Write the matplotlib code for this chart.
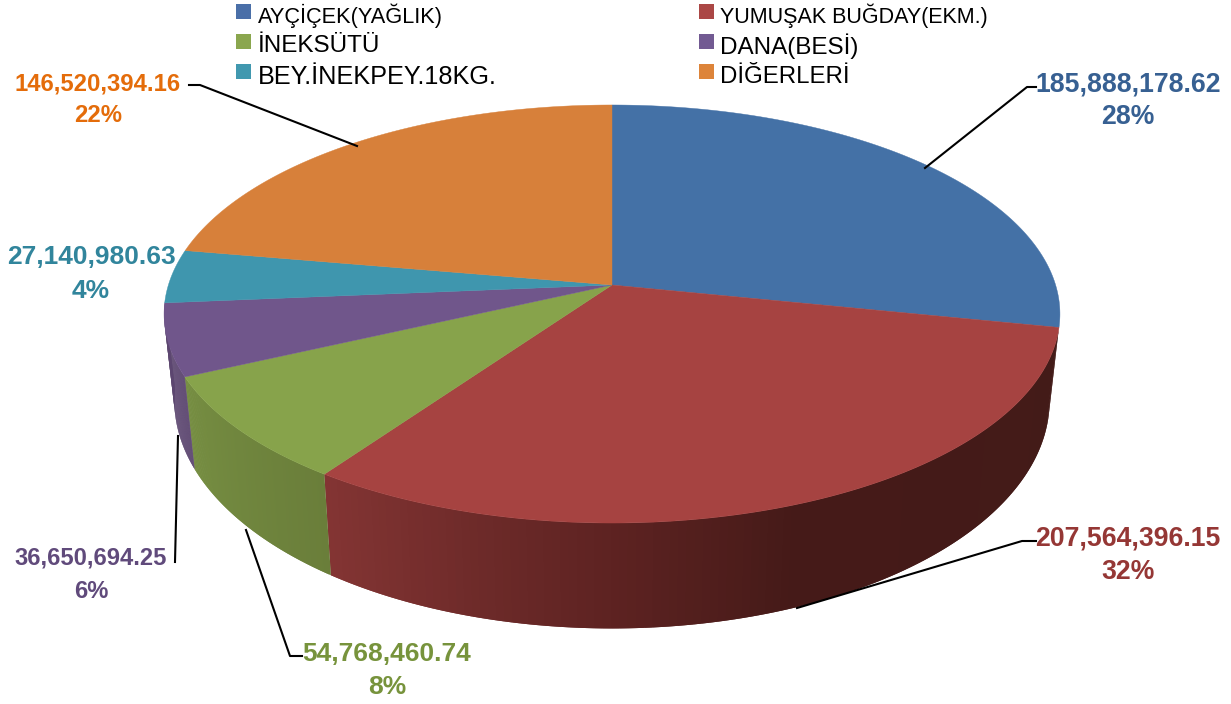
import numpy as np
import matplotlib
matplotlib.use("Agg")
import matplotlib.pyplot as plt
from matplotlib.patches import Polygon, Rectangle

plt.rcParams['font.family'] = ['Liberation Sans', 'DejaVu Sans']

categories = ["AYÇİÇEK(YAĞLIK)", "YUMUŞAK BUĞDAY(EKM.)", "İNEKSÜTÜ", "DANA(BESİ)",
              "BEY.İNEKPEY.18KG.", "DİĞERLERİ"]
values = [185888178.62, 207564396.15, 54768460.74, 36650694.25, 27140980.63, 146520394.16]
top_colors = ["#4471A6", "#A64341", "#87A34B", "#70568B", "#3F96AE", "#D7803A"]
legend_colors = ["#4A6FA8", "#AB4745", "#8AA64E", "#725A92", "#4198AF", "#DD843A"]
label_colors = ["#376092", "#953735", "#77933C", "#604A7B", "#31859C", "#E46C0A"]
legend_sizes = [15.7, 15.5, 17.5, 17.5, 18.2, 17.3]
# wall shade along each slice (clockwise), blue stays hidden
wall_stops = {1: [(0.0, "#431B18"), (0.5, "#451A18"), (0.7, "#5F2322"), (1.0, "#843534")],
              2: [(0.0, "#6A7E3A"), (1.0, "#768E42")],
              3: [(0.0, "#5C4670"), (1.0, "#5C4670")]}

# label centre x, y of first line, y of second line, font size
label_pos = [(1128, 85, 117, 19.2), (1128, 539, 572, 19.2), (387, 654, 687, 19),
             (91, 558, 592, 17.1), (91, 257, 291, 19), (98, 84, 116, 17.2)]
leaders = [[(925, 168), (1027, 87), (1036, 87)],
           [(797, 608), (1022, 541), (1036, 541)],
           [(246, 530), (290, 656), (302, 656)],
           [(178, 436), (175, 562)],
           [(189, 85), (200, 85), (357, 146)]]

# perspective of the pie, in pixels
cx, cy = 612, 285
A, B, p = 443.6, 205, 0.1388
shrink_x, stretch_y, drop = 0.977, 1.09, 84


def rim(theta):
    u, v = np.sin(theta), np.cos(theta)
    return cx + A * u / (1 + p * v), cy - B * v / (1 + p * v)


def floor(theta):
    x, y = rim(theta)
    return cx + (x - cx) * shrink_x, cy + (y - cy) * stretch_y + drop


def mix(stops, t):
    xs = [s[0] for s in stops]
    rgb = np.array([matplotlib.colors.to_rgb(s[1]) for s in stops])
    return [np.interp(t, xs, rgb[:, i]) for i in range(3)]


fig = plt.figure(figsize=(12.31, 7.04), dpi=100)
ax = fig.add_axes([0, 0, 1, 1])
ax.set_xlim(0, 1231)
ax.set_ylim(704, 0)
ax.axis("off")

edges = np.concatenate([[0], np.cumsum(values)]) / np.sum(values) * 2 * np.pi

# side wall, each strip runs under the next one so no seams show
for i, stops in wall_stops.items():
    ts = np.linspace(edges[i], edges[i + 1], 121)
    for k in range(len(ts) - 1):
        a = ts[k]
        b = ts[min(k + 2, len(ts) - 1)]
        c = mix(stops, (ts[k] - edges[i]) / (edges[i + 1] - edges[i]))
        x0, y0 = rim(a)
        x1, y1 = rim(b)
        x2, y2 = floor(b)
        x3, y3 = floor(a)
        ax.add_patch(Polygon([(x0, y0), (x1, y1), (x2, y2), (x3, y3)], facecolor=c, edgecolor="none"))

# top face
for i in range(len(values)):
    ts = np.linspace(edges[i], edges[i + 1], 200)
    x, y = rim(ts)
    pts = [(cx, cy)] + list(zip(x, y))
    ax.add_patch(Polygon(pts, facecolor=top_colors[i], edgecolor=top_colors[i], lw=0.3))

for pts in leaders:
    ax.plot([q[0] for q in pts], [q[1] for q in pts], color="black", lw=1.5)

total = np.sum(values)
for v, c, (x, y1, y2, fs) in zip(values, label_colors, label_pos):
    ax.text(x, y1, f"{v:,.2f}", color=c, fontsize=fs, fontweight="bold", ha="center", va="center")
    ax.text(x, y2, f"{v / total * 100:.0f}%", color=c, fontsize=fs, fontweight="bold", ha="center", va="center")

# legend, two columns filled row by row
for i, name in enumerate(categories):
    col, row = i % 2, i // 2
    lx = [236, 699][col]
    ly = 4 + row * 30
    ax.add_patch(Rectangle((lx, ly), 15, 15, facecolor=legend_colors[i], edgecolor="none"))
    ax.text(lx + 21.5, ly + 12 + (row == 2), name, fontsize=legend_sizes[i], va="center", ha="left", color="black")

fig.savefig("out.png", dpi=100)
